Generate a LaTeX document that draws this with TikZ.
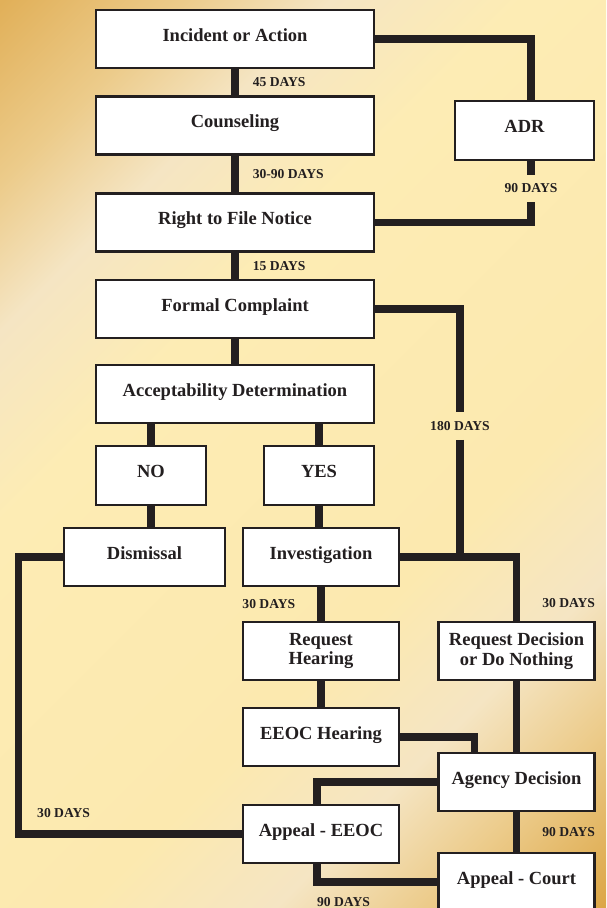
\documentclass[tikz,border=0pt]{standalone}
\usepackage{fontspec}
\setmainfont{Liberation Serif}
\usetikzlibrary{positioning,calc}
\definecolor{eeoink}{HTML}{231F20}
\definecolor{eeogold}{HTML}{E1B059}
\definecolor{eeotan}{HTML}{ECCB8A}
\definecolor{eeocream}{HTML}{F5E5C3}
\definecolor{eeopale}{HTML}{FDECB4}
\definecolor{eeopalb}{HTML}{FCE9AF}
\definecolor{eeogoldb}{HTML}{DCA646}
\pgfdeclarehorizontalshading{eeobg}{100bp}{color(0bp)=(eeogold); color(14.6bp)=(eeogold); color(23bp)=(eeotan); color(30bp)=(eeocream); color(39bp)=(eeopale); color(61bp)=(eeopalb); color(70bp)=(eeocream); color(77bp)=(eeotan); color(85.4bp)=(eeogoldb); color(100bp)=(eeogoldb)}
\tikzset{
  stage/.style={draw=eeoink, line width=2.1pt, fill=white, align=center, text=eeoink, inner sep=2pt,
    font=\fontsize{18.5}{19.5}\selectfont\bfseries},
  one/.style={stage, text height=13pt, text depth=8.5pt},
  wide/.style={minimum width=278pt, minimum height=58pt},
  mid/.style={minimum width=156pt, minimum height=58pt},
  small/.style={minimum width=110pt, minimum height=59pt},
  link/.style={draw=eeoink, line width=7.5pt},
  days/.style={font=\fontsize{13.6}{15}\selectfont\bfseries, text=eeoink, inner sep=2pt},
  gap/.style={days, inner ysep=9pt},
}
\begin{document}
\begin{tikzpicture}[x=1pt, y=-1pt]
  \useasboundingbox (0,0) rectangle (606,908);
  \shade[shading=eeobg, shading angle=-45] (0,0) rectangle (606,908);

  % main column
  \node[one, wide] (inc) at (235,39) {Incident or Action};
  \node[one, wide] (cou) at (235,125.5) {Counseling};
  \node[one, wide] (rtf) at (235,222.5) {Right to File Notice};
  \node[one, wide] (fc) at (235,309) {Formal Complaint};
  \node[one, wide] (acc) at (235,394) {Acceptability Determination};
  \node[one, minimum width=139pt, minimum height=59pt] (adr) at (524.5,130.5) {ADR};
  \node[one, small] (no) at (151,475.5) {NO};
  \node[one, small] (yes) at (319,475.5) {YES};
  \node[one, minimum width=161pt, minimum height=58pt] (dis) at (144.5,557) {Dismissal};
  \node[one, mid] (inv) at (321,557) {Investigation};
  \node[stage, mid] (rqh) at (321,651) {Request\\Hearing};
  \node[stage, mid] (rdn) at (516.5,651) {Request Decision\\or Do Nothing};
  \node[one, mid] (eeh) at (321,737) {EEOC Hearing};
  \node[one, mid] (agd) at (516.5,782) {Agency Decision};
  \node[one, mid] (ape) at (321,834) {Appeal - EEOC};
  \node[one, mid] (apc) at (516.5,882) {Appeal - Court};

  % labels that cut a line
  \node[gap] (d90a) at (531,188.5) {90 DAYS};
  \node[gap] (d180) at (460,426) {180 DAYS};
  \node[days, anchor=west] (d30d) at (35,813) {30 DAYS};
  \coordinate (lft) at (18.5,700);

  \draw[link] (inc) -- node[days, right=12pt] (d45) {45 DAYS} (cou);
  \draw[link] (cou) -- node[days, right=12pt] (d3090) {30-90 DAYS} (rtf);
  \draw[link] (rtf) -- node[days, right=12pt] (d15) {15 DAYS} (fc);
  \draw[link] (fc) -- (acc);
  \draw[link] (inc.east) -| (d90a.north |- adr.north);
  \draw[link] (d90a.north |- adr.south) -- (d90a.north);
  \draw[link] (d90a.south) |- (rtf.east);
  \draw[link] (fc.east) -| (d180.north);
  \draw[link] (d180.south) -- (d180.south |- inv.east);
  \draw[link] (no.north |- acc.south) -- (no);
  \draw[link] (yes.north |- acc.south) -- (yes);
  \draw[link] (no) -- (no.south |- dis.north);
  \draw[link] (yes) -- (yes.south |- inv.north);
  \draw[link] (dis.west) -| (lft) |- (ape.west);
  \draw[link] (inv) -- node[days, left=20pt] (d30a) {30 DAYS} (rqh);
  \draw[link] (inv.east) -| node[days, right=20pt, pos=0.86] (d30b) {30 DAYS} (rdn);
  \draw[link] (rqh) -- (eeh);
  \draw[link] (rdn) -- (agd);
  \draw[link] (eeh.east) -| ([xshift=37pt]agd.north west);
  \draw[link] (agd.west) -| ([xshift=-4pt]ape.north);
  \draw[link] (agd) -- node[days, right=20pt] (d90b) {90 DAYS} (apc);
  \draw[link] ([xshift=-4pt]ape.south) |- node[days, below=10pt, pos=0.61] (d90c) {90 DAYS} (apc.west);
\end{tikzpicture}
\end{document}
